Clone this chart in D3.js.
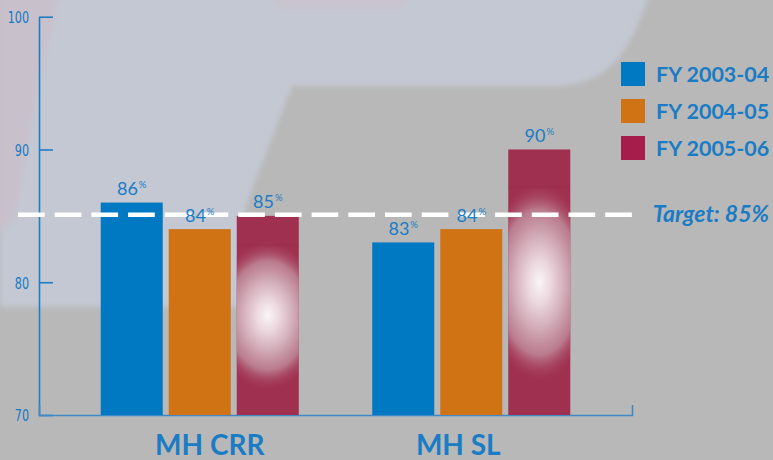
<!DOCTYPE html>
<html><head><meta charset="utf-8">
<script src="https://cdn.jsdelivr.net/npm/d3@7"></script>
<style>
html,body{margin:0;padding:0;background:#b8b8b8;}
svg{display:block;}
</style></head>
<body>
<svg id="chart" width="773" height="460"></svg>
<script>
const categories = ["MH CRR", "MH SL"];
const seriesNames = ["FY 2003-04", "FY 2004-05", "FY 2005-06"];
const crrValues = [86, 84, 85];
const slValues = [83, 84, 90];
const yTicks = [70, 80, 90, 100];
const targetValue = 85;
const targetLabel = "Target: 85%";

const colors = ["#0079c2", "#cf7315", "#a03050"];
const legendColors = ["#0079c2", "#d07315", "#a51d4b"];
const textBlue = "#1a7cc4";
const catNudge = [10, -13];

const svg = d3.select("#chart");
const W = 773, H = 460;
const defs = svg.append("defs");

// background
const blur = defs.append("filter").attr("id","soft").attr("x","-5%").attr("y","-5%").attr("width","110%").attr("height","110%");
blur.append("feGaussianBlur").attr("stdDeviation", 2.5);
svg.append("rect").attr("width", W).attr("height", H).attr("fill", "#b8b8b8");
const bg = svg.append("g").attr("filter","url(#soft)");
bg.append("path")
  .attr("d","M0,-5 L650,-5 C632,40 618,82 560,86 L292,86 L246,205 L240,307 L0,307 Z")
  .attr("fill","#c3c8d2");
bg.append("path")
  .attr("d","M-5,-5 L60,-5 L40,80 L15,220 L-5,235 Z")
  .attr("fill","#c9bfca").attr("opacity",0.8);
bg.append("path")
  .attr("d","M270,-5 L410,-5 L400,8 L280,8 Z")
  .attr("fill","#cdbfc9").attr("opacity",0.6);

// scales
const y = d3.scaleLinear().domain([70, 100]).range([415, 16.7]);
const x0 = d3.scaleBand().domain(categories).range([39, 632]).paddingInner(0).paddingOuter(0.092);
const x1 = d3.scaleBand().domain(seriesNames).range([0, x0.bandwidth()]).paddingInner(0.0882).paddingOuter(0.54);

const data = categories.map((c, i) => ({cat: c, vals: (i === 0 ? crrValues : slValues).map((v, j) => ({s: seriesNames[j], v, j}))}));

// y axis
const yAxis = svg.append("g").attr("transform", "translate(39,0)")
  .call(d3.axisLeft(y).tickValues(yTicks).tickSizeInner(-14).tickSizeOuter(0).tickPadding(10).tickFormat(d3.format("d")));
yAxis.selectAll("path,line").attr("stroke", "#1f7dc3").attr("stroke-width", 1.6);
const sx = 0.7;
yAxis.selectAll("text").attr("fill", "#1479c2")
  .attr("font-family", "'DejaVu Sans', sans-serif")
  .attr("font-size", 16)
  .attr("x", -10 / sx).attr("dy", "0.36em")
  .attr("transform", `scale(${sx},1)`);

// x axis
const xAxis = svg.append("g").attr("transform", `translate(0,${y(70)})`)
  .call(d3.axisBottom(x0).tickValues([]).tickSizeOuter(-10));
xAxis.select("path").attr("stroke", "#3f8ac6").attr("stroke-width", 1.6).attr("fill","none");

// bars
const groups = svg.append("g").selectAll("g").data(data).join("g")
  .attr("transform", d => `translate(${x0(d.cat)},0)`);

groups.selectAll("rect.bar").data(d => d.vals).join("rect")
  .attr("class","bar")
  .attr("x", d => x1(d.s)).attr("width", x1.bandwidth())
  .attr("y", d => y(d.v)).attr("height", d => y(70) - y(d.v))
  .attr("fill", d => colors[d.j]);

// glow on crimson bars
const rg = defs.append("radialGradient").attr("id","glow").attr("cx","50%").attr("cy","50%").attr("r","50%");
[["0%","#faf5f7",1],["20%","#ecd9df",1],["45%","#d3aeba",1],["72%","#bd8394",0.9],["100%","#a03050",0]].forEach(s =>
  rg.append("stop").attr("offset", s[0]).attr("stop-color", s[1]).attr("stop-opacity", s[2]));

data.forEach((d, gi) => {
  const v = d.vals[2];
  const bx = x0(d.cat) + x1(v.s), bw = x1.bandwidth();
  const top = y(v.v), bot = y(70), h = bot - top;
  const cid = "clip" + gi;
  defs.append("clipPath").attr("id", cid).append("rect")
    .attr("x", bx).attr("y", top).attr("width", bw).attr("height", h);
  const cy = top + h / 2, ry = h * 0.38;
  const g = svg.append("g").attr("clip-path", `url(#${cid})`);
  g.append("ellipse").attr("cx", bx + bw / 2).attr("cy", cy).attr("rx", bw * 0.9).attr("ry", ry)
    .attr("fill", "url(#glow)");
  g.append("rect").attr("x", bx).attr("y", cy - ry + 4).attr("width", bw).attr("height", 3)
    .attr("fill", "#8e2a48").attr("opacity", 0.2);
});

// target line
svg.append("line")
  .attr("x1", 18).attr("x2", 634).attr("y1", y(targetValue) - 1).attr("y2", y(targetValue) - 1)
  .attr("stroke", "#ffffff").attr("stroke-width", 4.5).attr("stroke-dasharray", "26.7,10");

// value labels (drawn above target line)
const labG = svg.append("g").selectAll("g").data(data).join("g")
  .attr("transform", d => `translate(${x0(d.cat)},0)`);
const lab = labG.selectAll("text.val").data(d => d.vals).join("text")
  .attr("class","val")
  .attr("x", d => x1(d.s) + x1.bandwidth() / 2)
  .attr("y", d => y(d.v) - 7.5)
  .attr("text-anchor", "middle")
  .attr("fill", textBlue)
  .attr("font-family", "Lato, 'Open Sans', sans-serif");
lab.append("tspan").attr("font-size", 18).text(d => d.v);
lab.append("tspan").attr("font-size", 9.5).attr("dy", -7).attr("dx", 1).text("%");

// category labels
svg.append("g").selectAll("text").data(categories).join("text")
  .attr("x", (d, i) => x0(d) + x0.bandwidth() / 2 + catNudge[i])
  .attr("y", 455)
  .attr("text-anchor", "middle")
  .attr("fill", textBlue)
  .attr("font-family", "Lato, 'Open Sans', sans-serif")
  .attr("font-weight", 700).attr("font-size", 28)
  .text(d => d);

// legend
const leg = svg.append("g").attr("transform", "translate(621,62)");
const li = leg.selectAll("g").data(seriesNames).join("g")
  .attr("transform", (d, i) => `translate(0,${i * 37})`);
li.append("rect").attr("width", 24).attr("height", 24).attr("fill", (d, i) => legendColors[i]);
li.append("text").attr("x", 35).attr("y", 19.5)
  .attr("fill", textBlue)
  .attr("font-family", "Lato, 'Open Sans', sans-serif")
  .attr("font-weight", 700).attr("font-size", 21.5)
  .text(d => d);

// target label
svg.append("text").attr("x", 769).attr("y", 222)
  .attr("text-anchor", "end")
  .attr("fill", textBlue)
  .attr("font-family", "Lato, 'Open Sans', sans-serif")
  .attr("font-weight", 700).attr("font-style", "italic").attr("font-size", 23)
  .text(targetLabel);
</script>
</body></html>
